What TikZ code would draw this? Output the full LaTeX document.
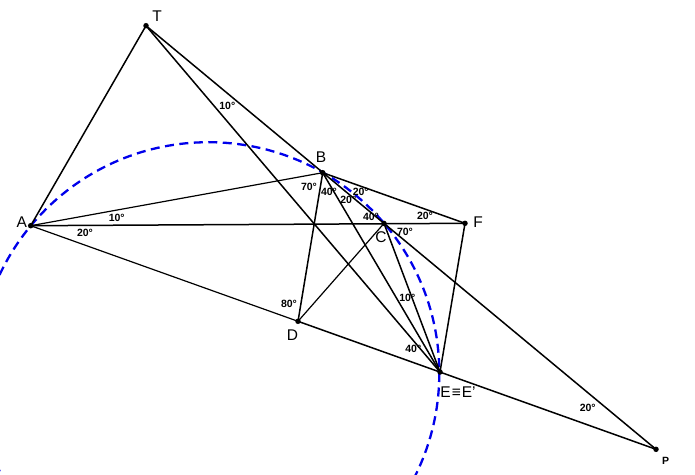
\documentclass[tikz,border=0pt]{standalone}
\usepackage{fontspec}
\setmainfont{Liberation Sans}
\begin{document}
\begin{tikzpicture}[x=1pt,y=-1pt,
  seg/.style={line width=1.5pt,black},
  thinseg/.style={line width=1.2pt,black},
  arcline/.style={line width=2.3pt,color={rgb,255:red,0;green,0;blue,235},dash pattern=on 9pt off 5.5pt},
  dot/.style={circle,fill=black,inner sep=0pt,minimum size=5.5pt},
  plab/.style={font=\fontsize{15.5}{17}\selectfont,inner sep=0pt},
  alab/.style={font=\fontsize{10.5}{12}\selectfont\bfseries,inner sep=0pt}]
\useasboundingbox (0,0) rectangle (695,474);
\clip (0,0) rectangle (695,474);
\fill[white] (0,0) rectangle (695,474);
% points
\coordinate (T) at (146,25.7);
\coordinate (A) at (30.7,225.7);
\coordinate (B) at (322.7,172.7);
\coordinate (C) at (384,223.4);
\coordinate (F) at (465,223.3);
\coordinate (D) at (298,321.3);
\coordinate (E) at (440,372);
\coordinate (P) at (656,449.3);
\coordinate (O) at (208.5,373);
% circle
\draw[arcline] (O) circle[radius=230.8];
% lines
\draw[seg] (T) -- (A);
\draw[seg] (T) -- (P);
\draw[seg] (T) -- (E);
\draw[thinseg] (A) -- (B);
\draw[seg] (A) -- (F);
\draw[thinseg] (A) -- (D);
\draw[seg] (D) -- (P);
\draw[seg] (B) -- (F);
\draw[seg] (B) -- (D);
\draw[seg] (B) -- (E);
\draw[thinseg] (C) -- (D);
\draw[seg] (C) -- (E);
\draw[seg] (F) -- (E);
% dots
\foreach \p in {T,A,B,C,F,D,E,P} \node[dot] at (\p) {};
% point labels
\node[plab] (lT) at (157,16) {T};
\node[plab] (lA) at (21.7,222) {A};
\node[plab] (lB) at (321,157) {B};
\node[plab] (lF) at (478,222.5) {F};
\node[plab] (lC) at (381,237.5) {C};
\node[plab] (lD) at (292.5,335) {D};
\node[plab] (lE) at (458,392) {E\kern1pt≡\kern1ptE'};
\node[alab] (lP) at (665.7,461.3) {P};
% angle labels
\node[alab] (a1) at (227.3,106) {10°};
\node[alab] (a2) at (309,186.7) {70°};
\node[alab] (a3) at (329,192.3) {40°};
\node[alab] (a4) at (360.7,191.7) {20°};
\node[alab] (a5) at (348.3,200) {20°};
\node[alab] (a6) at (371,217.3) {40°};
\node[alab] (a7) at (425,216) {20°};
\node[alab] (a8) at (405,231.7) {70°};
\node[alab] (a9) at (116.7,218.3) {10°};
\node[alab] (a10) at (85,232.7) {20°};
\node[alab] (a11) at (289,304) {80°};
\node[alab] (a12) at (407.3,298.3) {10°};
\node[alab] (a13) at (413.3,349) {40°};
\node[alab] (a14) at (587.7,408.3) {20°};
\end{tikzpicture}
\end{document}
